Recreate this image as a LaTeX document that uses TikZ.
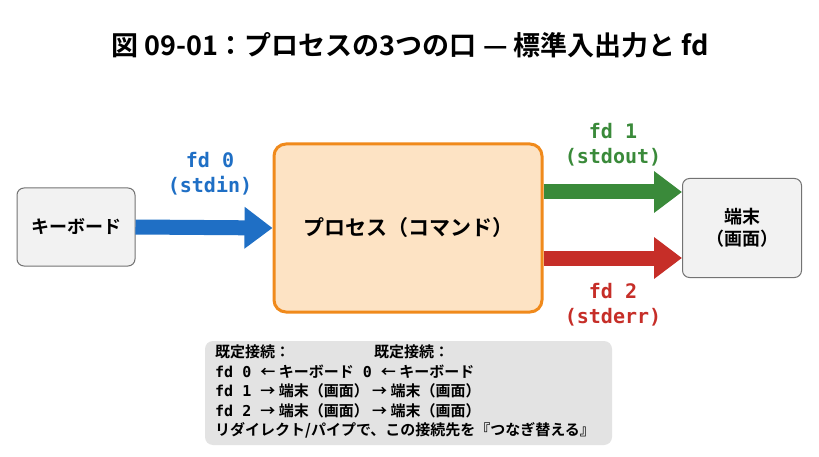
\documentclass[tikz,border=0pt]{standalone}
\usepackage{fontspec}
\setmainfont{Noto Sans CJK JP}[BoldFont={* Bold}]
\newfontfamily\mono{DejaVu Sans Mono}[BoldFont={* Bold}]
\usetikzlibrary{arrows.meta}
\definecolor{bl}{HTML}{1F6FC5}
\definecolor{gr}{HTML}{3A8A3A}
\definecolor{rd}{HTML}{C62E28}
\definecolor{og}{HTML}{F08A1C}
\definecolor{ogf}{HTML}{FDE3C4}
\tikzset{
 box/.style={draw=black!55,fill=black!5,rounded corners=7pt,line width=1pt,font=\bfseries\fontsize{18}{22}\selectfont,align=center},
 big/.style={line width=15pt,-{Triangle[length=28pt,width=40pt]}},
 lab/.style={font=\mono\bfseries\fontsize{20}{25}\selectfont,align=center},
}
\begin{document}
\begin{tikzpicture}[x=1pt,y=-1pt]
\useasboundingbox[fill=white] (0,0) rectangle (819,457);
\node[font=\bfseries\fontsize{27}{31}\selectfont] (title) at (410,45) {図 09-01：プロセスの3つの口 — 標準入出力と fd};
\node[box,minimum width=118pt,minimum height=78pt] (kb) at (76,227) {キーボード};
\node[box,draw=og,fill=ogf,line width=3pt,rounded corners=12pt,minimum width=268pt,minimum height=168pt,font=\bfseries\fontsize{21}{25}\selectfont] (proc) at (408,228) {プロセス（コマンド）};
\node[box,minimum width=119pt,minimum height=99pt] (term) at (742,228) {端末\\（画面）};
\coordinate (gy) at (0,192);
\coordinate (ry) at (0,258);
\draw[big,bl] (kb.east) -- (proc.west);
\draw[big,gr] (proc.east |- gy) -- (term.west |- gy);
\draw[big,rd] (proc.east |- ry) -- (term.west |- ry);
\node[lab,text=bl] (l0) at (210,174) {fd 0\\(stdin)};
\node[lab,text=gr] (l1) at (613,145) {fd 1\\(stdout)};
\node[lab,text=rd] (l2) at (613,305) {fd 2\\(stderr)};
\node[fill=black!11,rounded corners=8pt,minimum width=407pt,minimum height=104pt] (note) at (408.5,393) {};
\node[anchor=north west,align=left,inner sep=0pt,font=\bfseries\fontsize{15}{19.5}\selectfont] (notet) at (215,345) {%
既定接続：\hspace{5.6em}既定接続：\\
{\mono fd 0 }← キーボード{\mono\ 0 }← キーボード\\
{\mono fd 1 }→ 端末（画面） → 端末（画面）\\
{\mono fd 2 }→ 端末（画面） → 端末（画面）\\
リダイレクト/パイプで、この接続先を『つなぎ替える』};
\end{tikzpicture}
\end{document}
